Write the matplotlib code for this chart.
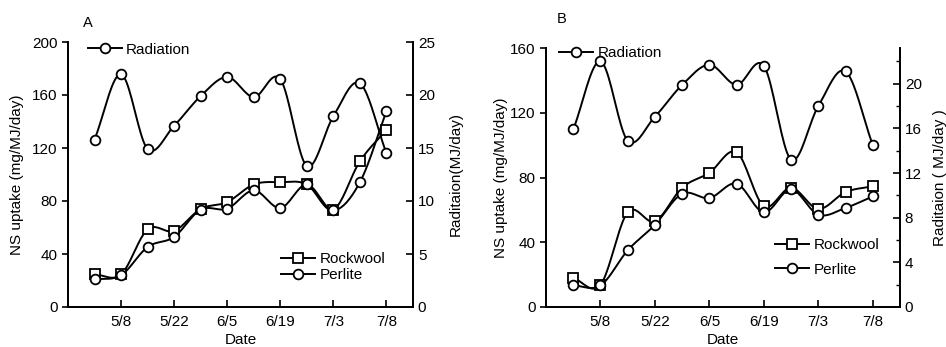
import numpy as np
import matplotlib
matplotlib.use("Agg")
import matplotlib.pyplot as plt
from matplotlib.ticker import MultipleLocator

plt.rcParams['font.family'] = ['Liberation Sans', 'DejaVu Sans']
plt.rcParams['font.size'] = 11

# sampling index, tick positions and labels
idx = list(range(12))
tick_pos = [1, 3, 5, 7, 9, 11]
tick_labels = ['5/8', '5/22', '6/5', '6/19', '7/3', '7/8']

# panel A
rad_a = [15.8, 21.95, 14.9, 17.1, 19.9, 21.7, 19.8, 21.5, 13.3, 18.0, 21.1, 14.5]
rock_a = [24.6, 24.6, 58.6, 57.4, 74.0, 79.2, 92.5, 94.2, 92.5, 73.5, 110, 133.8]
perl_a = [20.8, 24.0, 45.3, 52.9, 73.5, 74.2, 88, 74.7, 92.5, 73, 94.2, 147.7]

# panel B
rad_b = [15.9, 22.0, 14.9, 17.05, 19.9, 21.7, 19.9, 21.6, 13.2, 18.0, 21.1, 14.5]
rock_b = [17.9, 13.7, 58.5, 52.9, 73.7, 82.9, 95.6, 62.3, 73.7, 60.6, 71, 74.6]
perl_b = [13.3, 13.3, 35, 50.8, 70, 67.3, 76.2, 58.5, 72.7, 57, 61.2, 68.3]


def smooth(x, y, n=20):
    # catmull-rom curve through the points, for the hand drawn look
    x = np.asarray(x, float)
    y = np.asarray(y, float)
    xp = np.concatenate([[2 * x[0] - x[1]], x, [2 * x[-1] - x[-2]]])
    yp = np.concatenate([[2 * y[0] - y[1]], y, [2 * y[-1] - y[-2]]])
    t = np.linspace(0, 1, n, endpoint=False)
    xs, ys = [], []
    for i in range(1, len(xp) - 2):
        for arr, out in ((xp, xs), (yp, ys)):
            p0, p1, p2, p3 = arr[i - 1:i + 3]
            out.append(0.5 * (2 * p1 + (-p0 + p2) * t
                              + (2 * p0 - 5 * p1 + 4 * p2 - p3) * t ** 2
                              + (-p0 + 3 * p1 - 3 * p2 + p3) * t ** 3))
    xs.append([x[-1]])
    ys.append([y[-1]])
    return np.concatenate(xs), np.concatenate(ys)


def series(ax, y, marker, label):
    sx, sy = smooth(idx, y)
    ax.plot(sx, sy, color='black', lw=1.4, zorder=2)
    ax.plot(idx, y, linestyle='none', marker=marker, ms=7, mfc='white',
            mec='black', mew=1.3, zorder=3)
    # proxy for the legend
    ax.plot([], [], color='black', lw=1.4, marker=marker, ms=7, mfc='white',
            mec='black', mew=1.3, label=label)


def panel(rect, letter, rad, rock, perl, ylim, rlim, lstep, rstep, rminor,
          rlabel, lab_x, rlab_x, letter_xy, rad_leg, up_leg, up_space):
    ax = fig.add_axes(rect)
    ax2 = ax.twinx()
    series(ax, rock, 's', 'Rockwool')
    series(ax, perl, 'o', 'Perlite')
    series(ax2, rad, 'o', 'Radiation')

    ax.set_xlim(-1, 12)
    ax.set_ylim(0, ylim)
    ax2.set_ylim(0, rlim)
    ax.set_xticks(tick_pos)
    ax.set_xticklabels(tick_labels)
    ax.yaxis.set_major_locator(MultipleLocator(lstep))
    ax2.yaxis.set_major_locator(MultipleLocator(rstep))
    if rminor:
        ax2.yaxis.set_minor_locator(MultipleLocator(rminor))
    for a in (ax, ax2):
        a.spines['top'].set_visible(False)
        for s in a.spines.values():
            s.set_linewidth(1.3)
    ax.tick_params(axis='x', direction='in', length=5, width=1.2, pad=6)
    ax.tick_params(axis='y', direction='out', length=4, width=1.2)
    ax2.tick_params(axis='y', which='major', direction='in', length=5, width=1.2)
    ax2.tick_params(axis='y', which='minor', direction='in', length=3, width=1.0)

    ax.set_xlabel('Date')
    ax.xaxis.set_label_coords(0.5, -0.1)
    ax.set_ylabel('NS uptake (mg/MJ/day)')
    ax.yaxis.set_label_coords(lab_x, 0.5)
    ax2.set_ylabel(rlabel)
    ax2.yaxis.set_label_coords(rlab_x, 0.5)

    ax2.legend(loc='upper left', bbox_to_anchor=rad_leg, frameon=False,
               handlelength=2.2, handletextpad=0.3, borderaxespad=0)
    ax.legend(loc='upper left', bbox_to_anchor=up_leg, frameon=False,
              handlelength=2.2, handletextpad=0.3, labelspacing=up_space,
              borderaxespad=0)
    fig.text(letter_xy[0], letter_xy[1], letter, fontsize=10.5)


fig = plt.figure(figsize=(9.46, 3.47), dpi=100)

panel([68 / 946, 40 / 347, 345 / 946, 265 / 347], 'A', rad_a, rock_a, perl_a,
      200, 25, 40, 5, None, 'Raditaion(MJ/day)', -0.128, 1.104,
      (83 / 946, 1 - 27 / 347), (0.04, 1.02), (0.6, 0.23), 0.15)
panel([546 / 946, 40 / 347, 354 / 946, 259 / 347], 'B', rad_b, rock_b, perl_b,
      160, 23.2, 40, 4, 2, 'Raditaion ( MJ/day )', -0.107, 1.093,
      (557 / 946, 1 - 23 / 347), (0.02, 1.03), (0.63, 0.29), 0.7)

fig.savefig('out.png', dpi=100)
